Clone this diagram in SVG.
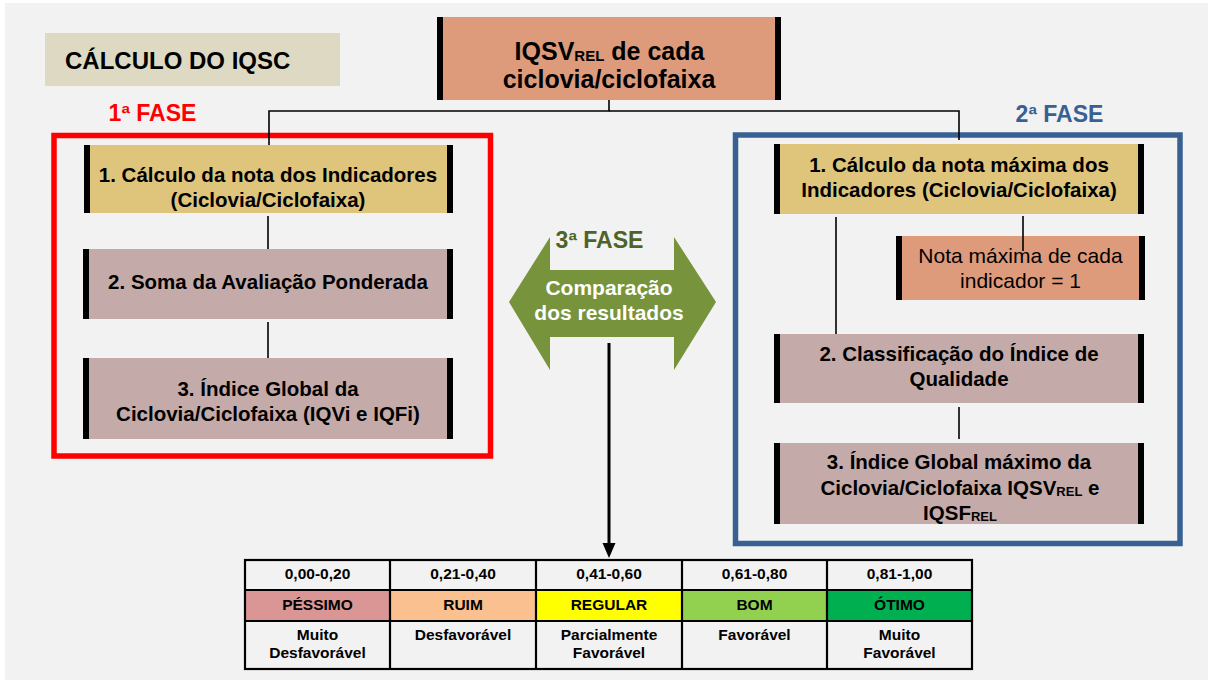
<svg xmlns="http://www.w3.org/2000/svg" width="1208" height="681" viewBox="0 0 1208 681">
<style>
text{font-family:"Liberation Sans",Arial,sans-serif;font-weight:bold;fill:#000;text-anchor:middle}
.box{font-size:20.5px}
.reg{font-weight:normal;font-size:21px}
.sub{font-size:13px}
.bar{fill:#000}
.c{stroke:#000;stroke-width:1.6;fill:none}
.tb{font-size:15.5px}
.grid{stroke:#000;stroke-width:2.2;fill:none}
</style>
<rect x="0" y="0" width="1208" height="681" fill="#ffffff"/>
<rect x="5" y="3" width="1203" height="677" fill="#f2f2f2"/>

<g id="title">
<rect x="45" y="33" width="295" height="53" fill="#ddd9c3"/>
<text x="65" y="69" style="font-size:24px;text-anchor:start">CÁLCULO DO IQSC</text>
</g>

<g id="fase1-label"><text x="152.5" y="121" style="font-size:23px;fill:#ff0000">1ª FASE</text></g>
<g id="fase2-label"><text x="1059.5" y="122" style="font-size:23px;fill:#386192">2ª FASE</text></g>

<g id="fase1-frame"><rect x="54" y="135.5" width="436.5" height="320.5" fill="none" stroke="#ff0000" stroke-width="5.5"/></g>
<g id="fase2-frame"><rect x="735.5" y="135" width="444.5" height="408.5" fill="none" stroke="#386192" stroke-width="5.5"/></g>

<g id="connectors">
<line x1="609" y1="89" x2="609" y2="100" stroke="#6a3a22" stroke-width="1.6"/>
<polyline class="c" points="609,100 609,111 269,111 269,145"/>
<polyline class="c" points="609,111 959,111 959,140"/>
<line class="c" x1="268" y1="216" x2="268" y2="249"/>
<line class="c" x1="268" y1="322" x2="268" y2="358"/>
<line class="c" x1="836" y1="217" x2="836" y2="334"/>
<line class="c" x1="959" y1="407" x2="959" y2="439"/>
<line x1="609" y1="343" x2="609" y2="546" stroke="#000" stroke-width="3"/>
<polygon points="602.5,543 615.5,543 609,558" fill="#000"/>
</g>

<g id="top-box">
<rect x="437" y="17" width="344" height="83" fill="#de9b7c"/>
<rect class="bar" x="437" y="17" width="6" height="83"/>
<rect class="bar" x="775" y="17" width="6" height="83"/>
<text x="609.5" y="60" style="font-size:25px">IQSV<tspan style="font-size:15px" dy="1">REL</tspan><tspan dy="-1"> de cada</tspan></text>
<text x="609" y="88" style="font-size:25px">ciclovia/ciclofaixa</text>
</g>

<g id="l1">
<rect x="84" y="145" width="369" height="68" fill="#dfc57b"/>
<rect class="bar" x="84" y="145" width="6" height="68"/>
<rect class="bar" x="447" y="145" width="6" height="68"/>
<text class="box" x="268" y="182">1. Cálculo da nota dos Indicadores</text>
<text class="box" x="268" y="207">(Ciclovia/Ciclofaixa)</text>
</g>

<g id="l2">
<rect x="83" y="249" width="370" height="70" fill="#c4abaa"/>
<rect class="bar" x="83" y="249" width="6" height="70"/>
<rect class="bar" x="447" y="249" width="6" height="70"/>
<text class="box" x="268" y="289">2. Soma da Avaliação Ponderada</text>
</g>

<g id="l3">
<rect x="83" y="358" width="370" height="81" fill="#c4abaa"/>
<rect class="bar" x="83" y="358" width="6" height="81"/>
<rect class="bar" x="447" y="358" width="6" height="81"/>
<text class="box" x="268" y="396">3. Índice Global da</text>
<text class="box" x="268" y="421">Ciclovia/Ciclofaixa (IQVi e IQFi)</text>
</g>

<g id="fase3">
<polygon points="509,302 550,237 550,270 674,270 674,237 716,302 674,370 674,337 550,337 550,370" fill="#77933c"/>
<text x="599.5" y="248" style="font-size:23px;fill:#4f6228">3ª FASE</text>
<text x="609" y="295" style="font-size:21px;fill:#ffffff">Comparação</text>
<text x="609" y="320" style="font-size:21px;fill:#ffffff">dos resultados</text>
</g>

<g id="r1">
<rect x="774" y="144" width="370" height="70" fill="#dfc57b"/>
<rect class="bar" x="774" y="144" width="6" height="70"/>
<rect class="bar" x="1138" y="144" width="6" height="70"/>
<text class="box" x="959" y="172">1. Cálculo da nota máxima dos</text>
<text class="box" x="959" y="197">Indicadores (Ciclovia/Ciclofaixa)</text>
</g>

<g id="r-nota">
<rect x="896" y="236" width="249" height="64" fill="#de9b7c"/>
<rect class="bar" x="896" y="236" width="6" height="64"/>
<rect class="bar" x="1139" y="236" width="6" height="64"/>
<text class="reg" x="1020.5" y="263">Nota máxima de cada</text>
<text class="reg" x="1020.5" y="288">indicador = 1</text>
</g>
<line class="c" x1="1023" y1="216" x2="1023" y2="251"/>

<g id="r2">
<rect x="774" y="334" width="370" height="69" fill="#c4abaa"/>
<rect class="bar" x="774" y="334" width="6" height="69"/>
<rect class="bar" x="1138" y="334" width="6" height="69"/>
<text class="box" x="959" y="361">2. Classificação do Índice de</text>
<text class="box" x="959" y="386">Qualidade</text>
</g>

<g id="r3">
<rect x="774" y="443" width="370" height="81" fill="#c4abaa"/>
<rect class="bar" x="774" y="443" width="6" height="81"/>
<rect class="bar" x="1138" y="443" width="6" height="81"/>
<text class="box" x="959" y="469">3. Índice Global máximo da</text>
<text class="box" x="960" y="495">Ciclovia/Ciclofaixa IQSV<tspan class="sub" dy="1">REL</tspan><tspan dy="-1"> e</tspan></text>
<text class="box" x="960" y="520">IQSF<tspan class="sub" dy="1">REL</tspan></text>
</g>

<g id="table">
<rect x="245" y="590" width="145" height="31" fill="#da9694"/>
<rect x="390" y="590" width="146" height="31" fill="#fac090"/>
<rect x="536" y="590" width="146" height="31" fill="#ffff00"/>
<rect x="682" y="590" width="145" height="31" fill="#92d050"/>
<rect x="827" y="590" width="145" height="31" fill="#00b050"/>
<rect class="grid" x="245" y="560" width="727" height="109"/>
<path class="grid" d="M245 590H972M245 621H972M390 560V669M536 560V669M682 560V669M827 560V669"/>
<text class="tb" x="317.5" y="579">0,00-0,20</text>
<text class="tb" x="463" y="579">0,21-0,40</text>
<text class="tb" x="609" y="579">0,41-0,60</text>
<text class="tb" x="754.5" y="579">0,61-0,80</text>
<text class="tb" x="899.5" y="579">0,81-1,00</text>
<text class="tb" x="317.5" y="610">PÉSSIMO</text>
<text class="tb" x="463" y="610">RUIM</text>
<text class="tb" x="609" y="610">REGULAR</text>
<text class="tb" x="754.5" y="610">BOM</text>
<text class="tb" x="899.5" y="610">ÓTIMO</text>
<text class="tb" x="317.5" y="640">Muito</text>
<text class="tb" x="317.5" y="658">Desfavorável</text>
<text class="tb" x="463" y="640">Desfavorável</text>
<text class="tb" x="609" y="640">Parcialmente</text>
<text class="tb" x="609" y="658">Favorável</text>
<text class="tb" x="754.5" y="640">Favorável</text>
<text class="tb" x="899.5" y="640">Muito</text>
<text class="tb" x="899.5" y="658">Favorável</text>
</g>
</svg>
